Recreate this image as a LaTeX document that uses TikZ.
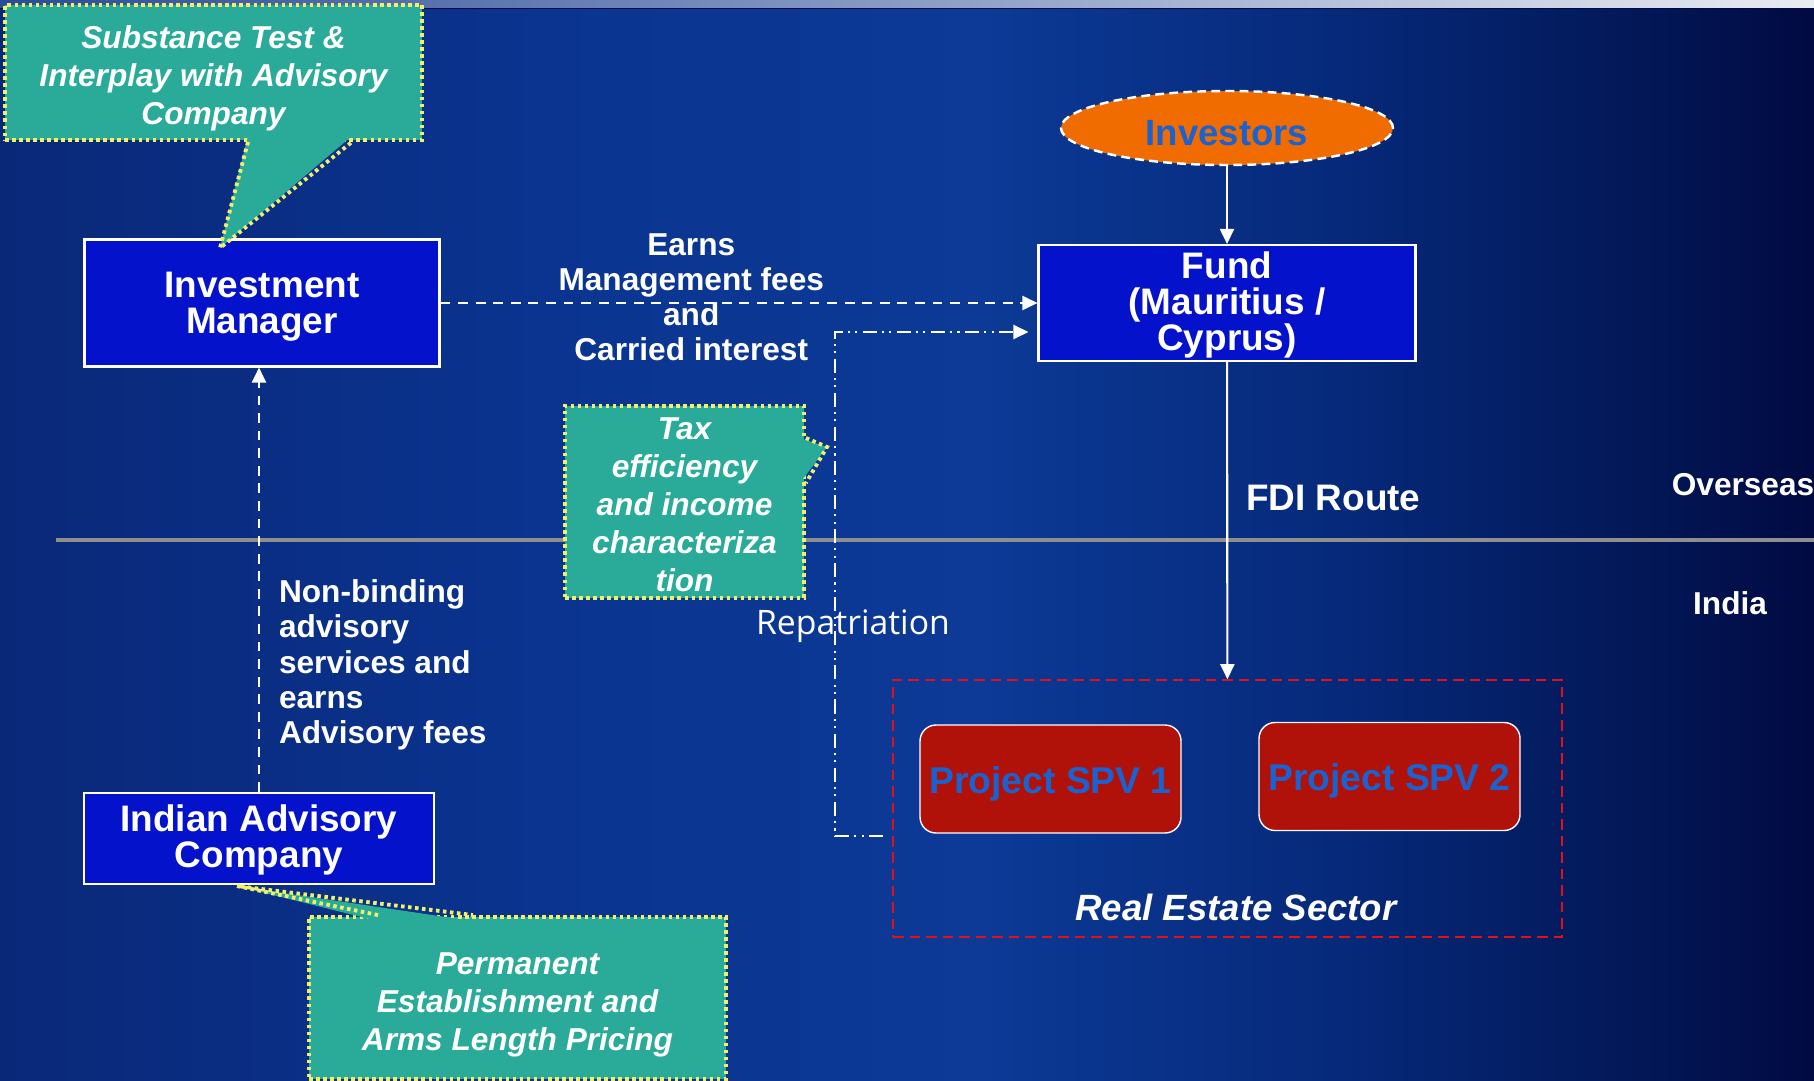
\documentclass[tikz,border=0pt]{standalone}
\usepackage{fontspec}
\setmainfont{Liberation Sans}
\newfontfamily\thinfont{Open Sans}
\usepackage{tikz}
\usetikzlibrary{arrows.meta, positioning, shapes.geometric}
\usepackage{xcolor}

\definecolor{bgA}{HTML}{0A2878}
\definecolor{bgB}{HTML}{0A3490}
\definecolor{bgC}{HTML}{0C3A96}
\definecolor{bgD}{HTML}{06297A}
\definecolor{bgE}{HTML}{031A5C}
\definecolor{bgF}{HTML}{010A42}
\definecolor{stripA}{HTML}{2A4C98}
\definecolor{stripB}{HTML}{E8ECF2}
\definecolor{boxblue}{HTML}{0512CC}
\definecolor{calloutteal}{HTML}{2AAB9A}
\definecolor{dotyellow}{HTML}{F2EF6A}
\definecolor{investorange}{HTML}{F06C00}
\definecolor{spvred}{HTML}{B0120A}
\definecolor{namblue}{HTML}{1A62D0}
\definecolor{dividergray}{HTML}{8E8E8E}
\definecolor{sectorred}{HTML}{E3101A}

\pgfdeclarehorizontalshading{slidebg}{100bp}{color(0bp)=(bgA); color(25bp)=(bgA); color(40bp)=(bgB); color(52bp)=(bgC); color(62bp)=(bgD); color(69bp)=(bgE); color(75bp)=(bgF); color(100bp)=(bgF)}

\newcommand{\boxfont}{\fontsize{10.5}{10.2}\selectfont\bfseries}
\newcommand{\notefont}{\fontsize{9}{10}\selectfont\bfseries}
\newcommand{\calloutfont}{\fontsize{9}{10.8}\selectfont\bfseries\itshape}
\newcommand{\lift}[1]{\rule{0pt}{#1}}

\begin{document}
\begin{tikzpicture}[>={Triangle[length=1.5mm,width=1.4mm]}, line width=0.6pt]
    \tikzstyle{entity}=[draw=white, fill=boxblue, text=white, font=\boxfont, align=center, inner sep=0pt]
    \tikzstyle{investor}=[ellipse, draw=white, dash pattern=on 2.5pt off 1.5pt, line width=0.7pt, fill=investorange, text=namblue, font=\fontsize{10.4}{12}\selectfont\bfseries, text height=10.1pt, text depth=0pt, inner sep=0pt]
    \tikzstyle{spv}=[draw=white, line width=0.4pt, rounded corners=0.16cm, fill=spvred, text=namblue, font=\fontsize{10.6}{12}\selectfont\bfseries, text height=10.3pt, text depth=2.2pt, minimum width=2.61cm, minimum height=1.08cm, inner sep=0pt]
    \tikzstyle{sectorbox}=[draw=sectorred, line width=0.45pt, dash pattern=on 3pt off 1.7pt]
    \tikzstyle{callout}=[fill=calloutteal, draw=dotyellow, line width=1.1pt, dash pattern=on 1pt off 1pt, text=white, font=\calloutfont, align=center, inner sep=0pt]
    \tikzstyle{tealfill}=[fill=calloutteal]
    \tikzstyle{dotline}=[draw=dotyellow, line width=1.1pt, dash pattern=on 1pt off 1pt]
    \tikzstyle{flowdash}=[dash pattern=on 2.8pt off 2.2pt]
    \tikzstyle{repdash}=[dash pattern=on 4pt off 1.5pt on 0.6pt off 1.5pt on 0.6pt off 1.5pt]
    \tikzstyle{notelbl}=[text=white, font=\notefont, inner sep=0pt]
    \tikzstyle{region}=[text=white, font=\fontsize{9}{10}\selectfont\bfseries, inner sep=0pt]

    \useasboundingbox (0,0) rectangle (18.14,-10.80);
    \shade[shading=slidebg] (0,0) rectangle (18.14,-10.80);
    \shade[left color=stripA, right color=stripB] (0,0) rectangle (18.14,-0.08);
    \draw[bgF, line width=0.3pt] (0,-0.085) -- (18.14,-0.085);

    \coordinate (divL) at (0.56,-5.40);
    \coordinate (divR) at (18.14,-5.40);
    \draw[dividergray, line width=1pt] (divL) -- (divR);

    \node[entity, minimum width=3.55cm, minimum height=1.27cm] (im) at (2.62,-3.03) {\lift{9.25pt}Investment\\Manager};
    \node[entity, minimum width=3.77cm, minimum height=1.16cm] (fund) at (12.27,-3.03) {\lift{8.6pt}Fund\\(Mauritius /\\Cyprus)};
    \node[entity, minimum width=3.50cm, minimum height=0.91cm] (iac) at (2.59,-8.385) {\lift{8.3pt}Indian Advisory\\Company};
    \node[investor, minimum width=3.32cm, minimum height=0.74cm] (inv) at (12.27,-1.28) {Investors};

    \node[sectorbox, minimum width=6.69cm, minimum height=2.57cm] (sector) at (12.275,-8.085) {};
    \node[spv] (spv1) at (10.505,-7.79) {Project SPV 1};
    \node[spv] (spv2) at (13.895,-7.765) {Project SPV 2};
    \node[text=white, font=\fontsize{10.4}{12}\selectfont\bfseries\itshape, inner sep=0pt] (sectorname) at (12.36,-9.07) {Real Estate Sector};

    \node[region] (overseas) at (17.43,-4.85) {Overseas};
    \node[region] (india) at (17.30,-6.03) {India};

    \path[->, draw, white]
    (inv) edge (fund)
    (fund) edge node[pos=0.43, right=1.8mm, notelbl, font=\fontsize{10.5}{12}\selectfont\bfseries] (fdilbl) {FDI Route} (sector)
    (im) edge[flowdash] node[pos=0.42, yshift=0.6mm, notelbl, align=center] (feelbl) {Earns\\Management fees\\and\\Carried interest} (fund)
    ;

    \draw[->, white, flowdash] (iac.north) -- node[pos=0.31, right=1.9mm, yshift=-0.45mm, notelbl, align=left] (advlbl) {Non-binding\\advisory\\services and\\earns\\Advisory fees} (iac.north |- im.south);

    \coordinate (repstart) at (8.83,-8.36);
    \coordinate (repcorner) at (8.35,-3.32);
    \draw[->, white, repdash, shorten >=0.9mm] (repstart) -| (repcorner) -- (repcorner -| fund.west);
    \node[text=white, font=\thinfont\fontsize{9.6}{11}\selectfont, inner sep=0pt] (replbl) at (8.53,-6.265) {Repatriation};

    \node[callout, minimum width=4.17cm, minimum height=1.35cm] (substance) at (2.135,-0.725) {\lift{9.6pt}Substance Test \&\\Interplay with Advisory\\Company};
    \coordinate (substip) at (2.20,-2.48);
    \fill[tealfill] ([xshift=3.45mm,yshift=0.6mm]substance.south) -- (substip) -- ([xshift=13.85mm,yshift=0.6mm]substance.south) -- cycle;
    \draw[dotline] ([xshift=3.45mm]substance.south) -- (substip) -- ([xshift=13.85mm]substance.south);

    \node[callout, minimum width=2.39cm, minimum height=1.92cm] (tax) at (6.845,-5.02) {\lift{7.8pt}Tax\\efficiency\\and income\\characteriza\\tion};
    \coordinate (taxtip) at (8.27,-4.47);
    \fill[tealfill] ([xshift=-0.6mm,yshift=6.4mm]tax.east) -- (taxtip) -- ([xshift=-0.6mm,yshift=1.9mm]tax.east) -- cycle;
    \draw[dotline] ([yshift=6.4mm]tax.east) -- (taxtip) -- ([yshift=1.9mm]tax.east);

    \node[callout, minimum width=4.17cm, minimum height=1.62cm] (pe) at (5.175,-9.98) {\lift{10.1pt}Permanent\\Establishment and\\Arms Length Pricing};
    \coordinate (petip) at (2.37,-8.86);
    \fill[tealfill] ([xshift=-13.95mm,yshift=-0.6mm]pe.north) -- (petip) -- ([xshift=-4.45mm,yshift=-0.6mm]pe.north) -- cycle;
    \draw[dotline] ([xshift=-13.95mm]pe.north) -- (petip) -- ([xshift=-4.45mm]pe.north);
\end{tikzpicture}
\end{document}
